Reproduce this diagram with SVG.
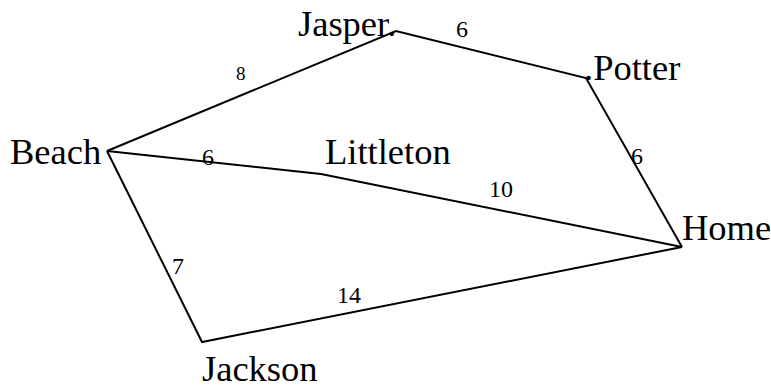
<svg xmlns="http://www.w3.org/2000/svg" width="771" height="388" viewBox="0 0 771 388">
<style>
.n{font-family:"Liberation Serif","Times New Roman",serif;font-size:36.5px;fill:#000}
.w{font-family:"Liberation Serif","Times New Roman",serif;font-size:24px;fill:#000}
.s{font-family:"Liberation Serif","Times New Roman",serif;font-size:19px;fill:#000}
.e{stroke:#000;stroke-width:2;fill:none}
</style>
<rect width="771" height="388" fill="#fff"/>
<g id="connectors">
<polyline class="e" points="107,151 396,31 586,78 682,247"/>
<polyline class="e" points="107,151 321,174 682,247"/>
<polyline class="e" points="107,151 202,342 682,247"/>
<text class="s" x="236" y="80">8</text>
<text class="w" x="456" y="37">6</text>
<text class="w" x="202" y="165">6</text>
<text class="w" x="631" y="164">6</text>
<text class="w" x="489" y="197">10</text>
<text class="w" x="172" y="274">7</text>
<text class="w" x="337" y="303">14</text>
</g>
<g id="jasper"><text class="n" x="298" y="36">Jasper.</text></g>
<g id="potter"><text class="n" x="584" y="80">.Potter</text></g>
<g id="beach"><text class="n" x="10" y="164">Beach</text></g>
<g id="littleton"><text class="n" x="325" y="164">Littleton</text></g>
<g id="home"><text class="n" x="682" y="240">Home</text></g>
<g id="jackson"><text class="n" x="202" y="381">Jackson</text></g>
</svg>
